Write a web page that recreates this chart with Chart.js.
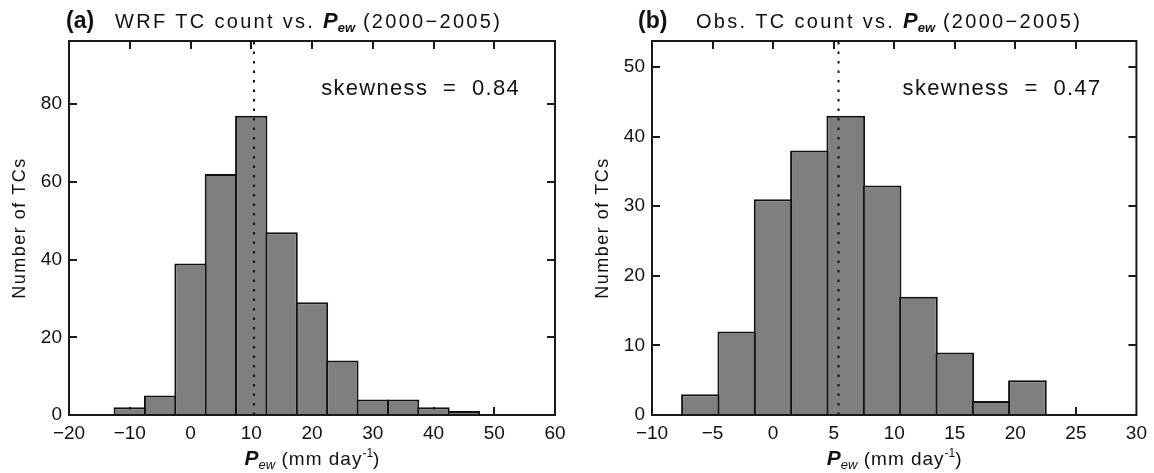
<!DOCTYPE html>
<html>
<head>
<meta charset="utf-8">
<script src="https://cdn.jsdelivr.net/npm/chart.js@4.4.1/dist/chart.umd.min.js"></script>
<style>
  html, body { margin: 0; padding: 0; background: #fff; }
  #wrap { display: flex; width: 1154px; height: 473px; }
  canvas { display: block; }
</style>
</head>
<body>
<div id="wrap">
  <canvas id="wrfChart" width="577" height="473"></canvas>
  <canvas id="obsChart" width="577" height="473"></canvas>
</div>
<script>
// WRF TC counts per P_ew bin (bin centres in mm/day, 5 mm/day wide)
const wrfBins = [-10, -5, 0, 5, 10, 15, 20, 25, 30, 35, 40, 45];
const wrfCounts = [2, 5, 39, 62, 77, 47, 29, 14, 4, 4, 2, 1];
const wrfMedian = 10.45;
const wrfSkew = "0.84";
const wrfXTicks = [-20, -10, 0, 10, 20, 30, 40, 50, 60];
const wrfYTicks = [0, 20, 40, 60, 80];
const wrfYMax = 96.25;

// Observed TC counts per P_ew bin (3 mm/day wide)
const obsBins = [-6, -3, 0, 3, 6, 9, 12, 15, 18, 21];
const obsCounts = [3, 12, 31, 38, 43, 33, 17, 9, 2, 5];
const obsMedian = 5.4;
const obsSkew = "0.47";
const obsXTicks = [-10, -5, 0, 5, 10, 15, 20, 25, 30];
const obsYTicks = [0, 10, 20, 30, 40, 50];
const obsYMax = 53.75;

const FONT = "'Liberation Sans', Arial, Helvetica, sans-serif";
Chart.defaults.font.family = FONT;
Chart.defaults.font.size = 19;
Chart.defaults.color = "#111";

// draw a run of text pieces with their own fonts / vertical shifts
function richWidth(ctx, parts) {
    let w = 0;
    parts.forEach(p => {
        ctx.font = p.font;
        ctx.letterSpacing = (p.ls || 0) + "px";
        w += ctx.measureText(p.text).width;
    });
    return w;
}

function drawRich(ctx, x, y, parts) {
    let cx = x;
    parts.forEach(p => {
        ctx.font = p.font;
        ctx.letterSpacing = (p.ls || 0) + "px";
        ctx.fillText(p.text, cx, y + (p.dy || 0));
        cx += ctx.measureText(p.text).width;
    });
    return cx;
}

const pewParts = [
    { text: "P", font: "bold italic 21px " + FONT },
    { text: "ew", font: "italic 13px " + FONT, dy: 4 },
    { text: " (mm day", font: "19px " + FONT, ls: 1 },
    { text: "-1", font: "12px " + FONT, dy: -8 },
    { text: ")", font: "19px " + FONT }
];

// frame with inward ticks, titles and annotation
const panelDecor = {
    id: "panelDecor",
    beforeDatasetsDraw(chart) {
        // tick marks sit under the bars
        const { ctx, chartArea: a } = chart;
        const x = chart.scales.x, y = chart.scales.y;
        ctx.save();
        ctx.strokeStyle = "#1a1a1a";
        ctx.lineWidth = 2;
        ctx.beginPath();
        x.ticks.forEach(t => {
            const px = Math.round(x.getPixelForValue(t.value));
            if (px <= a.left + 1 || px >= a.right - 1) return;
            ctx.moveTo(px, a.bottom); ctx.lineTo(px, a.bottom - 8);
            ctx.moveTo(px, a.top); ctx.lineTo(px, a.top + 8);
        });
        y.ticks.forEach(t => {
            const py = Math.round(y.getPixelForValue(t.value));
            if (py >= a.bottom - 1) return;
            ctx.moveTo(a.left, py); ctx.lineTo(a.left + 8, py);
            ctx.moveTo(a.right, py); ctx.lineTo(a.right - 8, py);
        });
        ctx.stroke();
        ctx.restore();
    },
    afterDatasetsDraw(chart) {
        const { ctx, chartArea: a } = chart;
        ctx.save();
        ctx.strokeStyle = "#1a1a1a";
        ctx.lineWidth = 2;
        ctx.strokeRect(a.left, a.top, a.right - a.left, a.bottom - a.top);
        ctx.restore();
    },
    afterDraw(chart, args, o) {
        const { ctx, chartArea: a } = chart;
        ctx.save();
        ctx.fillStyle = "#111";
        ctx.textBaseline = "alphabetic";
        ctx.textAlign = "left";

        // panel title
        drawRich(ctx, o.labelX, 28, [{ text: o.label, font: "bold 23px " + FONT }]);
        drawRich(ctx, o.titleX, 28, [
            { text: o.title, font: "20px " + FONT, ls: 2.3 },
            { text: "P", font: "bold italic 22px " + FONT },
            { text: "ew", font: "bold italic 13px " + FONT, dy: 4 },
            { text: " (2000\u22122005)", font: "20px " + FONT, ls: 2.3 }
        ]);

        // skewness note
        const sk = [{ text: "skewness  =  " + o.skew, font: "22px " + FONT, ls: 1.3 }];
        drawRich(ctx, a.right - 35 - richWidth(ctx, sk), 95, sk);

        // x axis title
        const cx = (a.left + a.right) / 2;
        drawRich(ctx, cx - richWidth(ctx, pewParts) / 2, 465, pewParts);

        // y axis title
        ctx.translate(a.left - 49, (a.top + a.bottom) / 2);
        ctx.rotate(-Math.PI / 2);
        ctx.textBaseline = "middle";
        const yt = [{ text: "Number of TCs", font: "18px " + FONT, ls: 1.5 }];
        drawRich(ctx, -richWidth(ctx, yt) / 2, 0, yt);
        ctx.restore();
    }
};

function minusSign(v) {
    return String(v).replace("-", "\u2212");
}

function makeHist(id, bins, counts, median, xTicks, yTicks, yMax, deco) {
    return new Chart(document.getElementById(id), {
        type: "bar",
        data: {
            datasets: [
                {
                    type: "line",
                    data: [{ x: median, y: 0 }, { x: median, y: yMax }],
                    borderColor: "#111",
                    borderWidth: 2,
                    borderDash: [2.5, 7],
                    pointRadius: 0,
                    order: 0
                },
                {
                    data: bins.map((b, i) => ({ x: b, y: counts[i] })),
                    backgroundColor: "#7f7f7f",
                    borderColor: "#111",
                    borderWidth: 2,
                    barPercentage: 1.065,
                    categoryPercentage: 1,
                    order: 1
                }
            ]
        },
        options: {
            responsive: false,
            animation: false,
            devicePixelRatio: 1,
            layout: { padding: { left: 0, right: deco.padRight, top: 41, bottom: 0 } },
            plugins: {
                legend: { display: false },
                tooltip: { enabled: false },
                panelDecor: deco
            },
            scales: {
                x: {
                    type: "linear",
                    min: xTicks[0],
                    max: xTicks[xTicks.length - 1],
                    offset: false,
                    grid: { display: false, drawTicks: false },
                    border: { display: false },
                    afterBuildTicks: s => { s.ticks = xTicks.map(v => ({ value: v })); },
                    afterFit: s => { s.height = 58; },
                    ticks: { padding: 7, maxRotation: 0, callback: minusSign }
                },
                y: {
                    min: 0,
                    max: yMax,
                    grid: { display: false, drawTicks: false },
                    border: { display: false },
                    afterBuildTicks: s => { s.ticks = yTicks.map(v => ({ value: v })); },
                    afterFit: s => { s.width = deco.axisLeft; },
                    ticks: { padding: 7 }
                }
            }
        },
        plugins: [panelDecor]
    });
}

makeHist("wrfChart", wrfBins, wrfCounts, wrfMedian, wrfXTicks, wrfYTicks, wrfYMax, {
    label: "(a)", labelX: 66, title: "WRF TC count vs. ", titleX: 115,
    skew: wrfSkew, axisLeft: 69, padRight: 22
});

makeHist("obsChart", obsBins, obsCounts, obsMedian, obsXTicks, obsYTicks, obsYMax, {
    label: "(b)", labelX: 61, title: "Obs. TC count vs. ", titleX: 119,
    skew: obsSkew, axisLeft: 75, padRight: 17
});
</script>
</body>
</html>
